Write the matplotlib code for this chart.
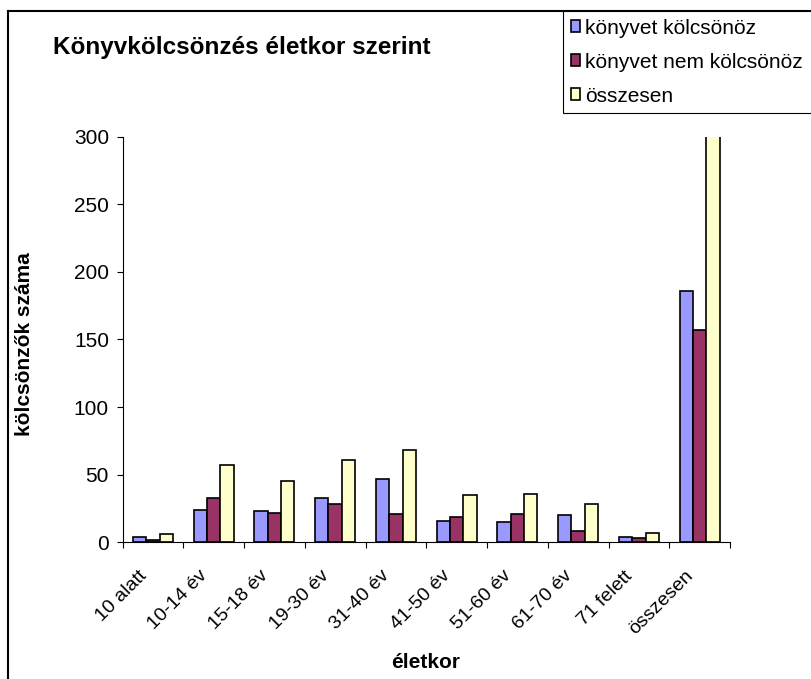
import numpy as np
import matplotlib
matplotlib.use("Agg")
import matplotlib.pyplot as plt
import matplotlib.transforms as mtransforms
from matplotlib.lines import Line2D

plt.rcParams['font.family'] = ['Liberation Sans', 'DejaVu Sans']

categories = ['10 alatt', '10-14 év', '15-18 év', '19-30 év', '31-40 év',
              '41-50 év', '51-60 év', '61-70 év', '71 felett', 'összesen']
kolcsonoz = [4, 24, 23, 33, 47, 16, 15, 20, 4, 186]
nem_kolcsonoz = [2, 33, 22, 28, 21, 19, 21, 8, 3, 157]
osszesen = [6, 57, 45, 61, 68, 35, 36, 28, 7, 343]
series_names = ['könyvet kölcsönöz', 'könyvet nem kölcsönöz', 'összesen']
colors = ['#9999FF', '#993366', '#FFFFCC']

W, H = 811, 679
fig = plt.figure(figsize=(W / 100, H / 100), dpi=100)
ax = fig.add_axes([122.5 / W, 1 - 542.3 / H, (730 - 122.5) / W, (542.3 - 136.7) / H])

x = np.arange(len(categories)) + 0.5
w = 0.22
bars = []
for i, (vals, c) in enumerate(zip([kolcsonoz, nem_kolcsonoz, osszesen], colors)):
    b = ax.bar(x + (i - 1) * w, vals, w, color=c, edgecolor='black', linewidth=1.2)
    bars.append(b)

ax.set_xlim(0, len(categories))
ax.set_ylim(0, 300)
ax.set_yticks(range(0, 301, 50))
ax.tick_params(axis='y', labelsize=15, length=4.3, width=0.8, direction='out', pad=5.5)

ax.set_xticks(np.arange(len(categories) + 1))
ax.set_xticklabels([])
ax.tick_params(axis='x', which='major', length=4.5, width=0.8, direction='out')
ax.set_xticks(x, minor=True)
ax.set_xticklabels(categories, minor=True, rotation=45, ha='right',
                   rotation_mode='anchor', fontsize=14)
ax.tick_params(axis='x', which='minor', length=0, pad=18)
shift = mtransforms.ScaledTranslation(-15 / 100, 0, fig.dpi_scale_trans)
for lbl in ax.get_xticklabels(minor=True):
    lbl.set_transform(lbl.get_transform() + shift)

for s in ['top', 'right']:
    ax.spines[s].set_visible(False)
for s in ['left', 'bottom']:
    ax.spines[s].set_linewidth(0.8)

fig.text(25 / W, 1 - 344 / H, 'kölcsönzők száma', fontsize=15, fontweight='bold',
         rotation=90, ha='center', va='center')
fig.text(426 / W, 1 - 662 / H, 'életkor', fontsize=15, fontweight='bold',
         ha='center', va='center')
fig.text(53 / W, 1 - 54 / H, 'Könyvkölcsönzés életkor szerint', fontsize=17.5,
         fontweight='bold', ha='left', va='baseline')

leg = fig.legend(bars, series_names, loc='upper left',
                 bbox_to_anchor=(563 / W, 0, 0.35, 1 - 11 / H), mode='expand',
                 borderaxespad=0, fontsize=15, handlelength=0.45, handleheight=0.45,
                 handletextpad=0.25, labelspacing=0.72, borderpad=0.36,
                 fancybox=False, edgecolor='black', framealpha=1)
leg.get_frame().set_linewidth(0.8)

# outer chart border (continues past the image edges)
fig.add_artist(Line2D([8 / W, 8 / W], [0, 1 - 11 / H], color='black', lw=1.5,
                      transform=fig.transFigure))
fig.add_artist(Line2D([8 / W, 1], [1 - 11 / H, 1 - 11 / H], color='black', lw=1.5,
                      transform=fig.transFigure))

fig.savefig('out.png', dpi=100)
